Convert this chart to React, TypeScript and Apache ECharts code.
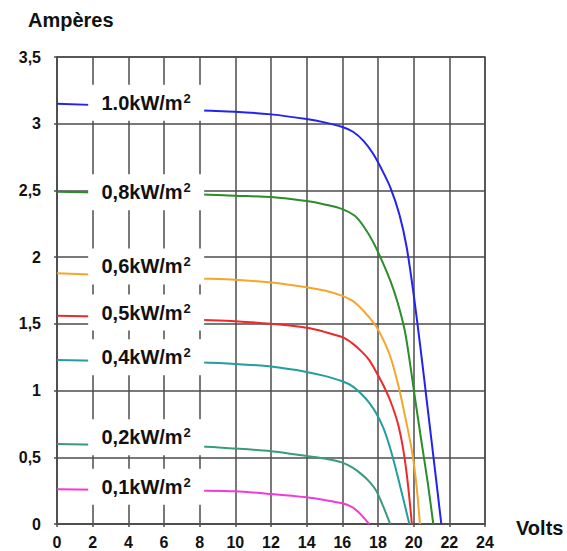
import React, { useEffect, useRef } from "react";
import * as echarts from "echarts";

// Tick labels
const xTicks = ["0", "2", "4", "6", "8", "10", "12", "14", "16", "18", "20", "22", "24"];
const yTickLabels: Record<string, string> = {
  "0": "0", "0.5": "0,5", "1": "1", "1.5": "1,5", "2": "2", "2.5": "2,5", "3": "3", "3.5": "3,5",
};

// Series names (irradiance) – the unit's "2" is drawn as a superscript
const seriesNames = ["1.0kW/m²", "0,8kW/m²", "0,6kW/m²", "0,5kW/m²", "0,4kW/m²", "0,2kW/m²", "0,1kW/m²"];

// Curve values (volts, amperes)
const v10 = [0, 4, 8, 10, 12, 14, 15, 16, 16.6, 17.2, 17.7, 18.2, 18.7, 19.2, 19.6, 20.0, 20.4, 20.8, 21.2, 21.55];
const a10 = [3.15, 3.13, 3.1, 3.09, 3.07, 3.035, 3.01, 2.975, 2.94, 2.87, 2.78, 2.66, 2.52, 2.32, 2.08, 1.72, 1.3, 0.85, 0.4, 0];

const v08 = [0, 4, 8, 10, 12, 14, 15, 16, 16.7, 17.2, 17.7, 18.2, 18.7, 19.1, 19.5, 19.8, 20.1, 20.4, 20.8, 21.1];
const a08 = [2.49, 2.48, 2.47, 2.46, 2.45, 2.42, 2.395, 2.36, 2.31, 2.23, 2.12, 1.98, 1.82, 1.66, 1.45, 1.2, 0.92, 0.65, 0.3, 0];

const v06 = [0, 4, 8, 10, 12, 14, 15, 16, 16.6, 17.1, 17.5, 17.9, 18.3, 18.7, 19.1, 19.5, 19.9, 20.15, 20.35];
const a06 = [1.88, 1.86, 1.84, 1.83, 1.81, 1.775, 1.75, 1.71, 1.67, 1.61, 1.55, 1.48, 1.38, 1.25, 1.06, 0.82, 0.55, 0.3, 0];

const v05 = [0, 4, 8, 10, 12, 14, 15, 16, 16.6, 17.1, 17.5, 17.9, 18.3, 18.7, 19.1, 19.4, 19.65, 19.9];
const a05 = [1.56, 1.55, 1.53, 1.52, 1.5, 1.47, 1.44, 1.4, 1.35, 1.29, 1.23, 1.14, 1.04, 0.92, 0.76, 0.57, 0.33, 0];

const v04 = [0, 4, 8, 10, 12, 14, 15, 16, 16.6, 17.1, 17.5, 17.9, 18.3, 18.7, 19.1, 19.45, 19.76];
const a04 = [1.23, 1.22, 1.21, 1.2, 1.18, 1.14, 1.11, 1.07, 1.03, 0.97, 0.91, 0.83, 0.72, 0.56, 0.36, 0.17, 0];

const v02 = [0, 4, 8, 10, 12, 14, 15, 16, 16.6, 17.1, 17.5, 17.9, 18.3, 18.68];
const a02 = [0.6, 0.59, 0.58, 0.565, 0.545, 0.51, 0.49, 0.46, 0.42, 0.37, 0.32, 0.25, 0.13, 0];

const v01 = [0, 4, 8, 10, 12, 14, 15, 16, 16.5, 16.9, 17.25, 17.5];
const a01 = [0.26, 0.255, 0.25, 0.245, 0.225, 0.2, 0.18, 0.155, 0.13, 0.09, 0.04, 0];

// Label anchors (volts, amperes) for the in-plot legend boxes
const labelV = [5, 5, 5, 5, 5, 5, 5];
const labelA = [3.157, 2.487, 1.93, 1.585, 1.25, 0.65, 0.28];

const colors = ["#2323ee", "#2a8c2a", "#f5a62c", "#ec2a2a", "#229e9e", "#3b9a7a", "#f23ad8"];

const curves = [
  [v10, a10], [v08, a08], [v06, a06], [v05, a05], [v04, a04], [v02, a02], [v01, a01],
];

const FONT = "Arial, 'Liberation Sans', sans-serif";
const GRID_COLOR = "#4d4d4d";

export default function App() {
  const ref = useRef<HTMLDivElement>(null);

  useEffect(() => {
    if (!ref.current) return;
    const chart = echarts.init(ref.current, null, { renderer: "svg" });

    const lineSeries = curves.map(([vs, as], i) => ({
      type: "line",
      name: seriesNames[i],
      data: vs.map((v, k) => [v, as[k]]),
      showSymbol: false,
      smooth: 0.3,
      lineStyle: { color: colors[i], width: 2 },
      z: 2,
      silent: true,
    }));

    const labelSeries = {
      type: "scatter",
      z: 5,
      symbol: "rect",
      symbolSize: [116, 36],
      itemStyle: { color: "#ffffff", opacity: 1 },
      data: labelV.map((v, i) => ({ value: [v, labelA[i]], name: seriesNames[i] })),
      label: {
        show: true,
        position: "inside",
        formatter: (p: any) => {
          const n: string = p.name;
          return "{a|" + n.replace("²", "") + "}{s|2}";
        },
        rich: {
          a: {
            color: "#111111",
            fontFamily: FONT,
            fontWeight: "bold",
            fontSize: 20,
            lineHeight: 22,
          },
          s: {
            color: "#111111",
            fontFamily: FONT,
            fontWeight: "bold",
            fontSize: 13,
            lineHeight: 22,
            padding: [0, 0, 9, 1],
          },
        },
      },
      emphasis: { disabled: true },
      silent: true,
    };

    chart.setOption({
      animation: false,
      backgroundColor: "#ffffff",
      grid: {
        left: 57,
        right: 82,
        top: 57,
        bottom: 27,
        show: true,
        borderColor: GRID_COLOR,
        borderWidth: 1.5,
        backgroundColor: "transparent",
      },
      xAxis: {
        type: "value",
        min: 0,
        max: 24,
        interval: 2,
        axisLine: { show: true, lineStyle: { color: GRID_COLOR, width: 1.5 } },
        axisTick: { show: true, length: 3, lineStyle: { color: GRID_COLOR, width: 1.5 } },
        splitLine: { show: true, lineStyle: { color: GRID_COLOR, width: 1.5 } },
        axisLabel: {
          margin: 10,
          color: "#111",
          fontFamily: FONT,
          fontWeight: "bold",
          fontSize: 16,
          formatter: (v: number) => xTicks[Math.round(v / 2)] ?? String(v),
        },
      },
      yAxis: {
        type: "value",
        min: 0,
        max: 3.5,
        interval: 0.5,
        axisLine: { show: true, lineStyle: { color: GRID_COLOR, width: 1.5 } },
        axisTick: { show: true, length: 3, lineStyle: { color: GRID_COLOR, width: 1.5 } },
        splitLine: { show: true, lineStyle: { color: GRID_COLOR, width: 1.5 } },
        axisLabel: {
          margin: 16,
          color: "#111",
          fontFamily: FONT,
          fontWeight: "bold",
          fontSize: 16,
          formatter: (v: number) => yTickLabels[String(v)] ?? String(v),
        },
      },
      graphic: [
        {
          type: "text",
          left: 28,
          top: 10,
          style: {
            text: "Ampères",
            fill: "#111",
            font: `bold 20px ${FONT}`,
          },
        },
        {
          type: "text",
          left: 516,
          top: 518,
          style: {
            text: "Volts",
            fill: "#111",
            font: `bold 20px ${FONT}`,
          },
        },
      ],
      series: [...lineSeries, labelSeries],
    });

    return () => chart.dispose();
  }, []);

  return (
    <div
      ref={ref}
      style={{ position: "fixed", left: 0, top: 0, width: 567, height: 551, background: "#fff" }}
    />
  );
}
